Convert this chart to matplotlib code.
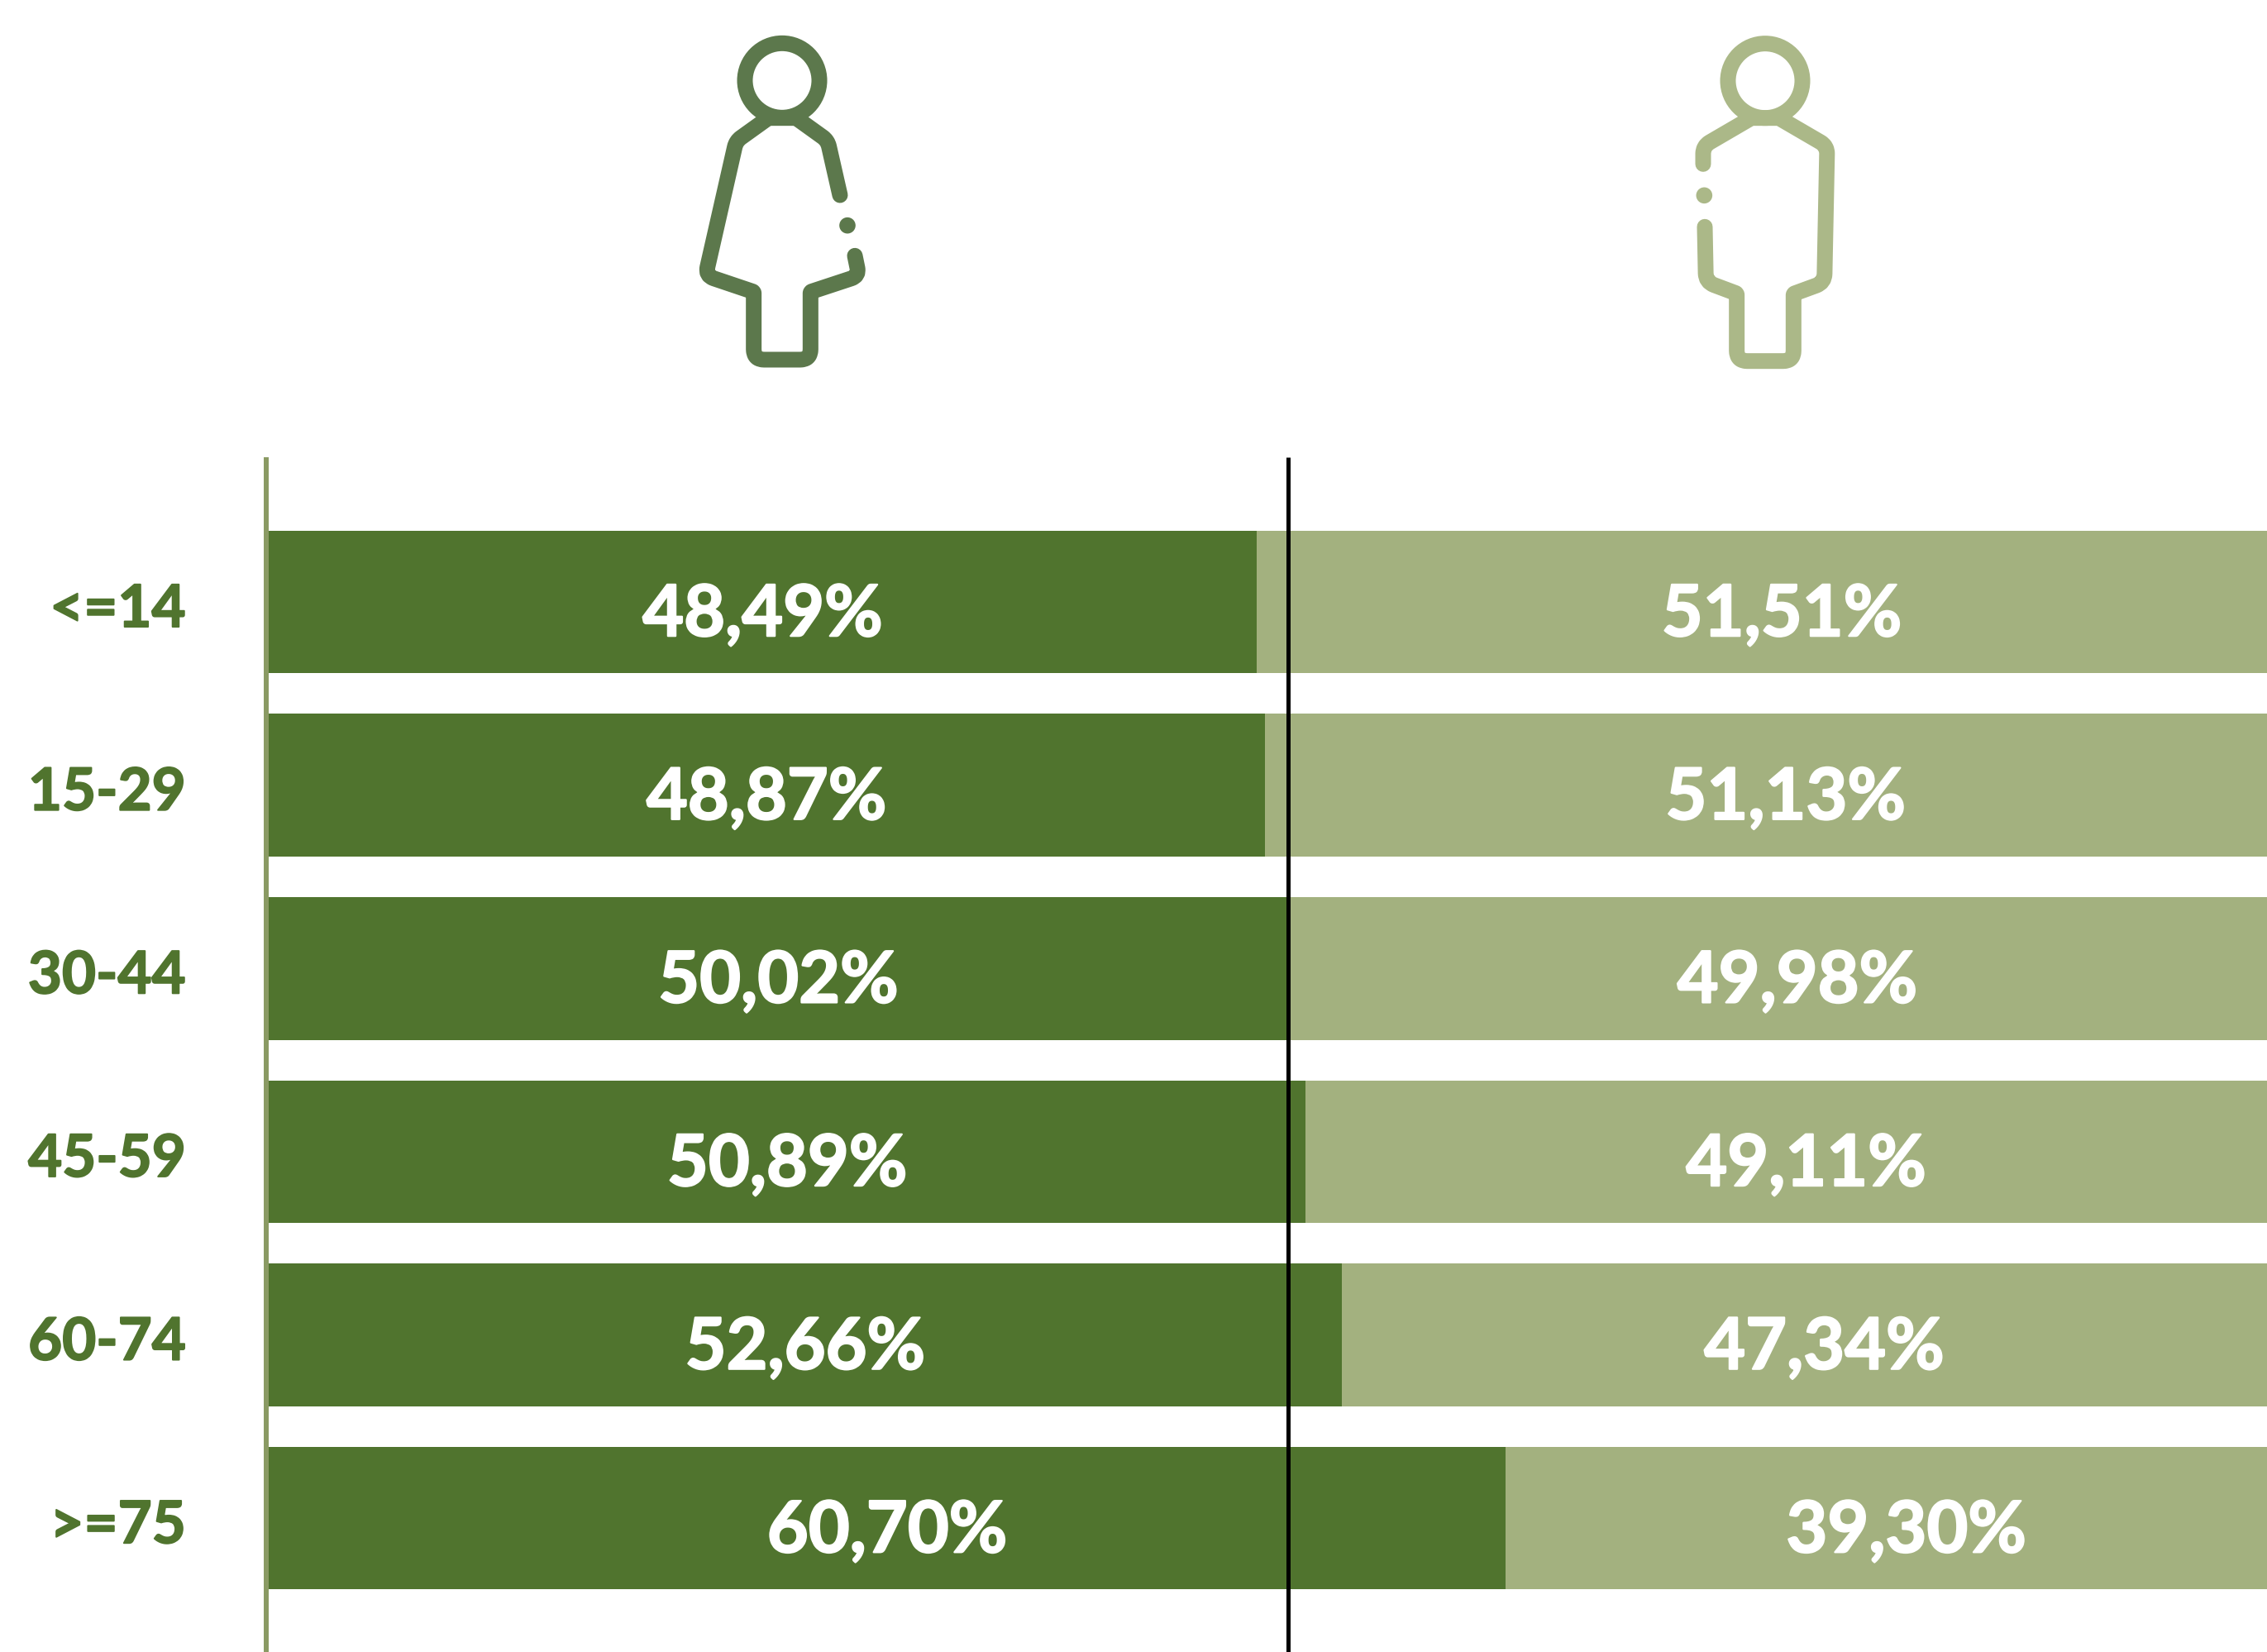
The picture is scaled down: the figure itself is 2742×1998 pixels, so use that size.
import matplotlib
matplotlib.use("Agg")
import matplotlib.pyplot as plt
from matplotlib.path import Path
from matplotlib.patches import PathPatch, Circle
from matplotlib.transforms import ScaledTranslation
import matplotlib.patheffects as pe

plt.rcParams['font.family'] = ['Lato', 'DejaVu Sans']

# data
age_groups = ['<=14', '15-29', '30-44', '45-59', '60-74', '>=75']
women = [48.49, 48.87, 50.02, 50.89, 52.66, 60.70]
men = [51.51, 51.13, 49.98, 49.11, 47.34, 39.30]

W, H = 2742, 1998
DARK = '#50742E'
LIGHT = '#A3B17F'
ICON_W = '#5C784C'
ICON_M = '#ABB888'
AXIS = '#8A9A63'


def rounded(points, radius):
    # polyline with rounded corners, radius per corner
    verts = [points[0]]
    codes = [Path.MOVETO]
    for i in range(1, len(points) - 1):
        px, py = points[i]
        r = radius[i - 1]
        ax0, ay0 = points[i - 1]
        bx, by = points[i + 1]
        la = ((ax0 - px) ** 2 + (ay0 - py) ** 2) ** 0.5
        lb = ((bx - px) ** 2 + (by - py) ** 2) ** 0.5
        verts.append((px + (ax0 - px) * r / la, py + (ay0 - py) * r / la))
        codes.append(Path.LINETO)
        verts.append((px, py))
        codes.append(Path.CURVE3)
        verts.append((px + (bx - px) * r / lb, py + (by - py) * r / lb))
        codes.append(Path.CURVE3)
    verts.append(points[-1])
    codes.append(Path.LINETO)
    return Path(verts, codes)


def draw_icon(ax, x0, points, radius, head, dot, color):
    # icon outlines, coordinates are zoomed crop pixels (3x) offset by x0
    pts = [(x0 + x / 3, 20 + y / 3) for x, y in points]
    lw = 19 * 72 / 100
    ax.add_patch(PathPatch(rounded(pts, [r / 3 for r in radius]), fill=False, ec=color, lw=lw,
                           capstyle='round', joinstyle='round'))
    ax.add_patch(Circle((x0 + head[0] / 3, 20 + head[1] / 3), 45, fill=False, ec=color, lw=lw))
    ax.add_patch(Circle((x0 + dot[0] / 3, 20 + dot[1] / 3), 9.8, fc=color, ec='none'))


fig = plt.figure(figsize=(W / 100, H / 100), dpi=100)

# bars
left = 325 / W
top = 553
ax = fig.add_axes([left, 0, 1 - left, (H - top) / H])
y = list(range(len(age_groups)))
ax.barh(y, women, height=0.778, color=DARK)
ax.barh(y, men, left=women, height=0.778, color=LIGHT)
ax.axvline(50, color='black', lw=3.6, zorder=3, solid_capstyle='butt')
ax.set_xlim(0, 98.05)
ax.set_ylim(5.73, -0.79)

bold = [pe.withStroke(linewidth=1.6, foreground='white')]
for i in y:
    ax.text(women[i] / 2, i + 0.075, f'{women[i]:.2f}'.replace('.', ',') + '%', color='white',
            fontsize=62, fontweight='bold', ha='center', va='center', zorder=4, path_effects=bold)
    ax.text(women[i] + men[i] / 2, i + 0.075, f'{men[i]:.2f}'.replace('.', ',') + '%', color='white',
            fontsize=62, fontweight='bold', ha='center', va='center', zorder=4, path_effects=bold)

for s in ['top', 'right', 'bottom']:
    ax.spines[s].set_visible(False)
ax.spines['left'].set_color(AXIS)
ax.spines['left'].set_linewidth(4.3)
ax.spines['left'].set_capstyle('butt')
ax.spines['left'].set_position(('outward', 2.2))

# set_position resets the ticks, so labels come after it
ax.set_yticks(y)
ax.set_yticklabels(age_groups, fontsize=51, fontweight='bold', color=DARK,
                   path_effects=[pe.withStroke(linewidth=1.4, foreground=DARK)])
ax.tick_params(axis='y', length=0, pad=70)
ax.set_xticks([])
for lab in ax.get_yticklabels():
    lab.set_transform(lab.get_transform() + ScaledTranslation(0, -0.035, fig.dpi_scale_trans))

# icons on a pixel overlay
over = fig.add_axes([0, 0, 1, 1], facecolor='none')
over.set_xlim(0, W)
over.set_ylim(H, 0)
over.axis('off')

draw_icon(over, 800,
          [(648, 648), (603, 450), (489, 368), (388, 368), (271, 452), (160, 940),
           (335, 999), (335, 1245), (541, 1245), (541, 999), (717, 941), (702, 868)],
          [22, 5, 5, 22, 32, 5, 38, 38, 5, 30],
          (438, 232), (675, 758), ICON_W)
draw_icon(over, 2000,
          [(180, 535), (180, 470), (355, 368), (455, 368), (630, 470), (620, 965),
           (508, 1006), (508, 1250), (302, 1250), (302, 1005), (190, 963), (186, 763)],
          [28, 5, 5, 28, 32, 5, 38, 38, 5, 32],
          (405, 233), (184, 649), ICON_M)

fig.savefig('out.png', dpi=100)
